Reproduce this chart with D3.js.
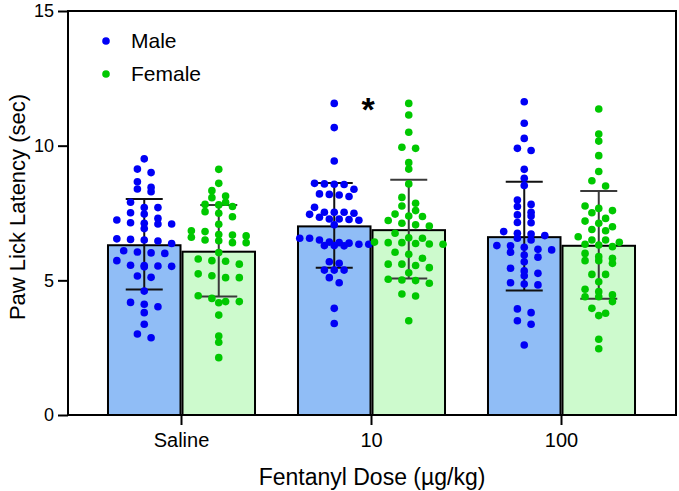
<!DOCTYPE html>
<html><head><meta charset="utf-8">
<script src="https://cdn.jsdelivr.net/npm/d3@7"></script>
<style>body{margin:0;background:#fff} text{font-family:Arial,"Liberation Sans",sans-serif;fill:#000}</style>
</head><body><svg id="c" width="679" height="491"></svg>
<script>
const doses = ["Saline", "10", "100"];
const sexes = ["Male", "Female"];
const yTicks = [0, 5, 10, 15];

const meansMale = [6.34, 7.04, 6.64];
const meansFemale = [6.10, 6.90, 6.32];
const sdMale = [1.68, 1.57, 2.02];
const sdFemale = [1.70, 1.83, 2.00];

const salineMale = [9.51, 9.13, 9.00, 8.66, 8.45, 8.39, 8.29, 7.90, 7.70, 7.70, 7.51, 7.46, 7.30, 7.24, 7.14, 7.12, 7.09, 7.09, 6.92, 6.54, 6.52, 6.50, 6.46, 6.37, 6.10, 6.05, 6.02, 6.00, 5.73, 5.56, 5.55, 5.53, 5.52, 5.50, 5.16, 5.11, 4.60, 4.18, 4.11, 4.02, 3.80, 3.37, 3.01, 2.87];
const salineFemale = [9.12, 8.60, 8.33, 8.13, 8.07, 7.90, 7.82, 7.80, 7.74, 7.55, 7.49, 7.36, 7.08, 6.84, 6.81, 6.70, 6.68, 6.65, 6.60, 6.50, 6.47, 6.40, 6.40, 6.03, 5.79, 5.73, 5.71, 5.60, 5.24, 5.17, 5.10, 5.10, 4.43, 4.33, 4.21, 4.21, 4.17, 3.71, 2.93, 2.70, 2.13];
const dose10Male = [11.57, 10.67, 9.43, 8.60, 8.58, 8.57, 8.56, 8.38, 8.21, 8.19, 8.17, 8.11, 7.71, 7.53, 7.53, 7.53, 7.49, 7.45, 7.34, 7.28, 7.28, 7.26, 7.23, 7.06, 6.56, 6.56, 6.50, 6.42, 6.40, 6.38, 6.34, 6.34, 6.29, 6.29, 6.28, 5.69, 5.63, 5.38, 5.38, 5.38, 5.10, 4.91, 3.96, 3.40];
const dose10Female = [11.57, 11.14, 10.50, 9.94, 9.90, 9.37, 9.13, 8.58, 8.08, 7.86, 7.76, 7.59, 7.46, 7.39, 7.37, 7.22, 7.12, 7.06, 7.02, 6.75, 6.58, 6.56, 6.42, 6.40, 6.40, 6.37, 6.35, 6.34, 6.04, 5.97, 5.82, 5.60, 5.60, 5.55, 5.47, 5.28, 5.04, 5.01, 4.99, 4.89, 4.49, 4.42, 3.50];
const dose100Male = [11.63, 10.83, 10.27, 9.90, 9.82, 9.12, 8.79, 8.52, 7.98, 7.82, 7.74, 7.53, 7.43, 7.39, 7.15, 7.14, 6.81, 6.75, 6.72, 6.66, 6.56, 6.50, 6.29, 6.28, 6.23, 6.15, 6.13, 6.04, 5.94, 5.86, 5.69, 5.45, 5.35, 5.26, 5.17, 4.91, 4.86, 4.83, 3.94, 3.80, 3.50, 3.37, 2.60];
const dose100Female = [11.36, 10.43, 10.17, 9.63, 9.04, 8.70, 8.50, 7.76, 7.67, 7.59, 7.51, 7.30, 7.20, 7.12, 6.99, 6.89, 6.84, 6.62, 6.50, 6.50, 6.41, 6.34, 6.31, 6.25, 6.00, 5.88, 5.82, 5.73, 5.73, 5.63, 5.22, 5.22, 4.95, 4.67, 4.58, 4.46, 4.39, 4.39, 4.21, 3.96, 3.78, 3.69, 2.81, 2.46];

const pointsMale = [salineMale, dose10Male, dose100Male];
const pointsFemale = [salineFemale, dose10Female, dose100Female];

const colors = {
  Male: {bar: "#90bdf6", dot: "#0000f5", err: "#111"},
  Female: {bar: "#cdfacd", dot: "#00c800", err: "#3a3a3a"}
};

const groups = [];
doses.forEach((d, i) => {
  groups.push({dose: d, sex: "Male", mean: meansMale[i], sd: sdMale[i], pts: pointsMale[i]});
  groups.push({dose: d, sex: "Female", mean: meansFemale[i], sd: sdFemale[i], pts: pointsFemale[i]});
});

const svg = d3.select("#c");
const plotL = 68, plotR = 676;
const x0 = d3.scaleBand().domain(doses).range([86.5, 656.5]).paddingInner(0).paddingOuter(0);
const x1 = d3.scaleBand().domain(sexes).range([0, x0.bandwidth()]).paddingInner(0).paddingOuter(0.275);
const y = d3.scaleLinear().domain([0, 15]).range([415, 11]);

// bars
const sw = 2;
svg.append("g").selectAll("rect").data(groups).join("rect")
  .attr("x", d => x0(d.dose) + x1(d.sex) + sw / 2)
  .attr("width", x1.bandwidth() - sw)
  .attr("y", d => y(d.mean) + sw / 2)
  .attr("height", d => y(0) - y(d.mean) - sw / 2)
  .attr("fill", d => colors[d.sex].bar)
  .attr("stroke", "#000").attr("stroke-width", sw);

// error bars
const capW = 37;
const eg = svg.append("g").selectAll("g").data(groups).join("g")
  .attr("stroke", d => colors[d.sex].err).attr("stroke-width", 2).attr("fill", "none");
eg.append("line")
  .attr("x1", d => x0(d.dose) + x1(d.sex) + x1.bandwidth() / 2)
  .attr("x2", d => x0(d.dose) + x1(d.sex) + x1.bandwidth() / 2)
  .attr("y1", d => y(d.mean + d.sd)).attr("y2", d => y(d.mean - d.sd));
eg.append("line")
  .attr("x1", d => x0(d.dose) + x1(d.sex) + x1.bandwidth() / 2 - capW / 2)
  .attr("x2", d => x0(d.dose) + x1(d.sex) + x1.bandwidth() / 2 + capW / 2)
  .attr("y1", d => y(d.mean + d.sd)).attr("y2", d => y(d.mean + d.sd));
eg.append("line")
  .attr("x1", d => x0(d.dose) + x1(d.sex) + x1.bandwidth() / 2 - capW / 2)
  .attr("x2", d => x0(d.dose) + x1(d.sex) + x1.bandwidth() / 2 + capW / 2)
  .attr("y1", d => y(d.mean - d.sd)).attr("y2", d => y(d.mean - d.sd));

// swarm layout (row based, like Prism scatter)
function swarm(vals, cx) {
  const pts = vals.map(v => ({v, py: y(v)})).sort((a, b) => a.py - b.py);
  const rows = [];
  let cur = null;
  pts.forEach(p => {
    if (!cur || p.py - cur[0].py > 6) { cur = [p]; rows.push(cur); }
    else cur.push(p);
  });
  const maxN = d3.max(rows, r => r.length);
  const sp = maxN > 1 ? Math.min(13.7, 69 / (maxN - 1)) : 13.7;
  rows.forEach(r => r.forEach((p, i) => { p.px = cx + (i - (r.length - 1) / 2) * sp; }));
  return pts;
}

groups.forEach(g => {
  const cx = x0(g.dose) + x1(g.sex) + x1.bandwidth() / 2;
  const pts = swarm(g.pts, cx);
  svg.append("g").selectAll("circle").data(pts).join("circle")
    .attr("cx", d => d.px).attr("cy", d => d.py).attr("r", 3.8)
    .attr("fill", colors[g.sex].dot);
});

// frame
svg.append("rect").attr("x", plotL).attr("y", y(15)).attr("width", plotR - plotL).attr("height", y(0) - y(15))
  .attr("fill", "none").attr("stroke", "#000").attr("stroke-width", 2);

// y axis
const ya = svg.append("g").attr("transform", `translate(${plotL},0)`)
  .call(d3.axisLeft(y).tickValues(yTicks).tickSize(10).tickSizeOuter(0).tickPadding(4));
ya.select(".domain").remove();
ya.selectAll(".tick line").attr("stroke", "#000").attr("stroke-width", 2);
ya.selectAll(".tick text").attr("font-size", 18).attr("font-family", "Arial, 'Liberation Sans', sans-serif").attr("fill", "#000");

// x axis
const xa = svg.append("g").attr("transform", `translate(0,${y(0)})`)
  .call(d3.axisBottom(x0).tickSize(10).tickSizeOuter(0).tickPadding(8));
xa.select(".domain").remove();
xa.selectAll(".tick line").attr("stroke", "#000").attr("stroke-width", 2);
xa.selectAll(".tick text").attr("font-size", 20).attr("font-family", "Arial, 'Liberation Sans', sans-serif").attr("fill", "#000");

// axis titles
svg.append("text").attr("x", 372).attr("y", 485).attr("text-anchor", "middle")
  .attr("font-size", 23).text("Fentanyl Dose (\u00b5g/kg)");
svg.append("text").attr("transform", "translate(25,207) rotate(-90)").attr("text-anchor", "middle")
  .attr("font-size", 22).text("Paw Lick Latency (sec)");

// legend
const leg = svg.append("g");
sexes.forEach((s, i) => {
  leg.append("circle").attr("cx", 106).attr("cy", 41 + i * 33).attr("r", 3.8).attr("fill", colors[s].dot);
  leg.append("text").attr("x", 131).attr("y", 48 + i * 33).attr("font-size", 21).text(s);
});

// significance
svg.append("text").attr("x", 368).attr("y", 121).attr("text-anchor", "middle")
  .attr("font-size", 34).attr("font-weight", "bold").text("*");
</script></body></html>
